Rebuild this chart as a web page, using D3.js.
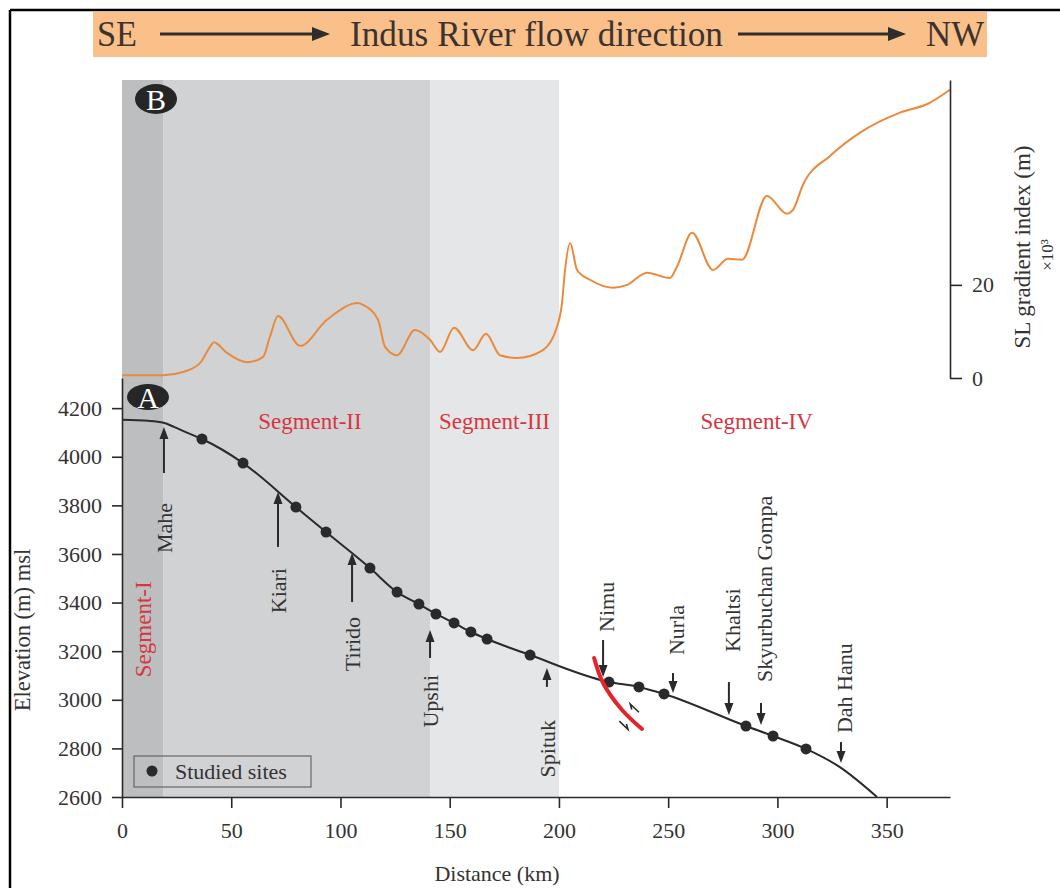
<!DOCTYPE html>
<html>
<head>
<meta charset="utf-8">
<script src="https://cdn.jsdelivr.net/npm/d3@7/dist/d3.min.js"></script>
<style>
  html, body { margin: 0; padding: 0; background: #fff; }
  svg { display: block; }
  text { font-family: "Liberation Serif", "Times New Roman", serif; fill: #333; }
</style>
</head>
<body>
<svg id="chart" width="1060" height="888"></svg>
<script>
// ---- Data -------------------------------------------------------------
// Longitudinal river profile of the Indus (distance km, elevation m)
const profile = [
  [0, 4152], [12, 4148], [19, 4140], [24, 4122], [30, 4098],
  [36.6, 4073], [55.4, 3974], [79.6, 3793], [93.4, 3690],
  [113.5, 3542], [125.9, 3443], [135.9, 3394], [143.7, 3353],
  [152.0, 3316], [159.7, 3279], [167.1, 3250], [186.8, 3184],
  [222.9, 3073], [236.6, 3053], [248.1, 3024], [285.6, 2892],
  [298.0, 2851], [313.1, 2798], [328.6, 2723], [345.6, 2600]
];
// Studied sites along the profile
const sites = [
  [36.6, 4073], [55.4, 3974], [79.6, 3793], [93.4, 3690],
  [113.5, 3542], [125.9, 3443], [135.9, 3394], [143.7, 3353],
  [152.0, 3316], [159.7, 3279], [167.1, 3250], [186.8, 3184],
  [222.9, 3073], [236.6, 3053], [248.1, 3024], [285.6, 2892],
  [298.0, 2851], [313.1, 2798]
];
// Stream-length gradient index (x10^3 m) along the river
const slIndex = [
  [0, 0.6], [18.8, 0.6], [27.9, 1.3], [35.7, 3.2], [40.3, 6.7], [42.1, 7.7],
  [48.0, 5.4], [57.2, 3.4], [64.5, 4.5], [67.7, 8.8], [71.4, 13.3],
  [81.5, 6.9], [93.8, 12.5], [108.0, 16.1], [110.3, 15.7], [117.2, 12.5],
  [120.4, 6.7], [125.9, 4.9], [134.1, 10.3], [141.0, 8.2], [145.6, 5.6],
  [152.0, 10.8], [160.7, 6.0], [166.6, 9.5], [173.0, 4.9], [180.8, 4.3],
  [192.7, 6.0], [199.1, 11.0], [201.4, 16.1], [202.8, 23.2], [205.1, 29.0],
  [208.3, 23.2], [214.2, 21.1], [224.7, 19.4], [231.2, 20.0], [240.3, 22.6],
  [250.8, 21.5], [254.0, 23.9], [260.9, 31.2], [270.5, 23.2], [277.4, 25.6],
  [283.8, 25.4], [295.2, 39.1], [304.4, 35.3], [307.1, 36.1], [311.7, 41.5],
  [324.1, 47.7], [337.8, 52.7], [356.1, 57.0], [368.9, 58.9], [379.0, 61.9]
];
// River segments (km ranges)
const segments = [
  { name: "Segment-I",   from: 0,     to: 18.8 },
  { name: "Segment-II",  from: 18.8,  to: 141 },
  { name: "Segment-III", from: 141,   to: 200 },
  { name: "Segment-IV",  from: 200,   to: 379 }
];
// Localities: arrow tip/tail and label end, in km / elevation
const localities = [
  { name: "Mahe",              km: 19.2,  dir: "up",   tip: 4122, tail: 3933, label: 3810 },
  { name: "Kiari",             km: 71.4,  dir: "up",   tip: 3855, tail: 3629, label: 3542 },
  { name: "Tirido",            km: 105.3, dir: "up",   tip: 3604, tail: 3402, label: 3341 },
  { name: "Upshi",             km: 141.0, dir: "up",   tip: 3287, tail: 3172, label: 3102 },
  { name: "Spituk",            km: 194.5, dir: "up",   tip: 3131, tail: 3053, label: 2917 },
  { name: "Nimu",              km: 220.2, dir: "down", tip: 3094, tail: 3246, label: 3279 },
  { name: "Nurla",             km: 252.2, dir: "down", tip: 3028, tail: 3110, label: 3184 },
  { name: "Khaltsi",           km: 277.8, dir: "down", tip: 2937, tail: 3073, label: 3197 },
  { name: "Skyurbuchan Gompa", km: 292.5, dir: "down", tip: 2896, tail: 2987, label: 3073 },
  { name: "Dah Hanu",          km: 329.1, dir: "down", tip: 2740, tail: 2826, label: 2863 }
];
// Trace of the fault crossing the profile near Nimu
const fault = [[216.1, 3172], [220.2, 3069], [228.9, 2958], [238.0, 2880]];

const distanceTicks = [0, 50, 100, 150, 200, 250, 300, 350];
const elevationTicks = [2600, 2800, 3000, 3200, 3400, 3600, 3800, 4000, 4200];
const slTicks = [0, 20];

// ---- Layout ----------------------------------------------------------
const svg = d3.select("#chart");
const FONT = 22;
const red = "#d8363f";
const ink = "#2a2a2a";

const x = d3.scaleLinear().domain([0, 379]).range([122, 950]);
const yElev = d3.scaleLinear().domain([2600, 4324]).range([797, 378]);
const ySL = d3.scaleLinear().domain([0, 64]).range([378, 80]);

// Outer frame
svg.append("line").attr("x1", 10).attr("y1", 10).attr("x2", 1060).attr("y2", 10)
  .attr("stroke", "#000").attr("stroke-width", 2.5);
svg.append("line").attr("x1", 10).attr("y1", 10).attr("x2", 10).attr("y2", 888)
  .attr("stroke", "#000").attr("stroke-width", 2.5);

// Flow direction banner
const banner = svg.append("g");
banner.append("rect").attr("x", 93).attr("y", 12).attr("width", 894).attr("height", 45)
  .attr("fill", "#fbbf89");
const bannerText = [
  { t: "SE", x: 97, w: 40 },
  { t: "Indus River flow direction", x: 350, w: 373 },
  { t: "NW", x: 926, w: 58 }
];
banner.selectAll("text.b").data(bannerText).join("text")
  .attr("x", d => d.x).attr("y", 46)
  .attr("textLength", d => d.w).attr("lengthAdjust", "spacingAndGlyphs")
  .style("font-size", "36px").style("fill", "#3a3431")
  .text(d => d.t);
const bannerArrows = [[160, 330], [738, 906]];
bannerArrows.forEach(([a, b]) => {
  banner.append("line").attr("x1", a).attr("y1", 34).attr("x2", b - 14).attr("y2", 34)
    .attr("stroke", "#2e2e2e").attr("stroke-width", 3);
  banner.append("path")
    .attr("d", `M${b},34 L${b - 18},27 L${b - 18},41 Z`).attr("fill", "#2e2e2e");
});

// Segment shading (first three segments)
const shades = ["#bdbec0", "#d1d2d4", "#e5e6e7"];
svg.append("g").selectAll("rect").data(segments.slice(0, 3)).join("rect")
  .attr("x", d => x(d.from)).attr("width", d => x(d.to) - x(d.from))
  .attr("y", ySL.range()[1]).attr("height", yElev(2600) - ySL.range()[1])
  .attr("fill", (d, i) => shades[i]);

// ---- Panel B: SL index ------------------------------------------------
svg.append("path").datum(slIndex)
  .attr("fill", "none").attr("stroke", "#ea8a3c").attr("stroke-width", 2)
  .attr("d", d3.line().x(d => x(d[0])).y(d => ySL(d[1])).curve(d3.curveMonotoneX));

const rightAxis = svg.append("g").attr("transform", `translate(${x(379)},0)`)
  .call(d3.axisRight(ySL).tickValues(slTicks).tickSize(12).tickSizeOuter(0).tickPadding(10));
rightAxis.select(".domain").attr("stroke", ink).attr("stroke-width", 1.6);
rightAxis.selectAll(".tick line").attr("stroke", ink).attr("stroke-width", 1.6);
rightAxis.selectAll(".tick text").style("font-size", FONT + "px")
  .style("font-family", '"Liberation Serif", serif').attr("fill", "#333");

svg.append("text").attr("transform", "translate(1022,247) rotate(-90)")
  .attr("text-anchor", "middle").attr("dy", "0.35em").style("font-size", "23px")
  .text("SL gradient index (m)");
svg.append("text").attr("transform", "translate(1047,255) rotate(-90)")
  .attr("text-anchor", "middle").attr("dy", "0.35em").style("font-size", "17px")
  .text("×10³");

// ---- Panel A: river profile -----------------------------------------
const leftAxis = svg.append("g").attr("transform", `translate(${x(0)},0)`)
  .call(d3.axisLeft(yElev).tickValues(elevationTicks).tickSize(10).tickSizeOuter(0).tickPadding(10).tickFormat(d3.format("d")));
const bottomAxis = svg.append("g").attr("transform", `translate(0,${yElev(2600)})`)
  .call(d3.axisBottom(x).tickValues(distanceTicks).tickSize(11).tickSizeOuter(0).tickPadding(14).tickFormat(d3.format("d")));
[leftAxis, bottomAxis].forEach(ax => {
  ax.select(".domain").attr("stroke", ink).attr("stroke-width", 1.6);
  ax.selectAll(".tick line").attr("stroke", ink).attr("stroke-width", 1.6);
  ax.selectAll(".tick text").style("font-size", FONT + "px")
    .style("font-family", '"Liberation Serif", serif').attr("fill", "#333");
});

svg.append("text").attr("transform", "translate(22,630) rotate(-90)")
  .attr("text-anchor", "middle").attr("dy", "0.35em").style("font-size", "22.5px")
  .text("Elevation (m) msl");
svg.append("text").attr("x", 497).attr("y", 881).attr("text-anchor", "middle")
  .style("font-size", FONT + "px").text("Distance (km)");

// Segment labels
const segLabels = svg.append("g").style("fill", red);
segLabels.selectAll("text").data(segments.slice(1)).join("text")
  .attr("x", d => d.name === "Segment-II" ? x(86) : d.name === "Segment-III" ? x(170.5) : x(290.5))
  .attr("y", 429).attr("text-anchor", "middle")
  .style("font-size", "23px").style("fill", red).text(d => d.name);
svg.append("text").attr("transform", `translate(${x(9.8)},${yElev(3290)}) rotate(-90)`)
  .attr("text-anchor", "middle").attr("dy", "0.33em")
  .style("font-size", "23px").style("fill", red).text(segments[0].name);

// Profile line and sites
svg.append("path").datum(profile)
  .attr("fill", "none").attr("stroke", ink).attr("stroke-width", 2)
  .attr("d", d3.line().x(d => x(d[0])).y(d => yElev(d[1])).curve(d3.curveMonotoneX));
svg.append("g").selectAll("circle").data(sites).join("circle")
  .attr("cx", d => x(d[0])).attr("cy", d => yElev(d[1])).attr("r", 5.5).attr("fill", ink);

// Fault trace
svg.append("path").datum(fault)
  .attr("fill", "none").attr("stroke", "#e3242b").attr("stroke-width", 4).attr("stroke-linecap", "round")
  .attr("d", d3.line().x(d => x(d[0])).y(d => yElev(d[1])).curve(d3.curveCatmullRom));
(function faultSense() {
  const p = fault.map(d => [x(d[0]), yElev(d[1])]);
  const a = p[2], b = p[3];
  const len = Math.hypot(b[0] - a[0], b[1] - a[1]);
  const t = [(b[0] - a[0]) / len, (b[1] - a[1]) / len];
  const n = [t[1], -t[0]];
  const m = [(a[0] + b[0]) / 2, (a[1] + b[1]) / 2];
  const g = svg.append("g").attr("stroke", ink).attr("stroke-width", 1.6).attr("fill", "none");
  // hanging wall side: arrow pointing down-dip
  const c1 = [m[0] - n[0] * 10 - t[0] * 2, m[1] - n[1] * 10 - t[1] * 2];
  const s1 = [c1[0] - t[0] * 6, c1[1] - t[1] * 6], e1 = [c1[0] + t[0] * 6, c1[1] + t[1] * 6];
  g.append("path").attr("d", `M${s1}L${e1}L${e1[0] - t[0] * 5 + n[0] * 3},${e1[1] - t[1] * 5 + n[1] * 3}`);
  // footwall side: arrow pointing up-dip
  const c2 = [m[0] + n[0] * 10 - t[0] * 6, m[1] + n[1] * 10 - t[1] * 6];
  const s2 = [c2[0] + t[0] * 6, c2[1] + t[1] * 6], e2 = [c2[0] - t[0] * 6, c2[1] - t[1] * 6];
  g.append("path").attr("d", `M${s2}L${e2}L${e2[0] + t[0] * 5 - n[0] * 3},${e2[1] + t[1] * 5 - n[1] * 3}`);
})();

// Locality arrows and labels
const loc = svg.append("g");
localities.forEach(d => {
  const px = x(d.km);
  const tipY = yElev(d.tip), tailY = yElev(d.tail);
  const sgn = d.dir === "up" ? 1 : -1; // head points toward smaller y when up
  loc.append("line").attr("x1", px).attr("x2", px)
    .attr("y1", tailY).attr("y2", tipY + sgn * 10)
    .attr("stroke", ink).attr("stroke-width", 2);
  loc.append("path")
    .attr("d", `M${px},${tipY} L${px - 4.5},${tipY + sgn * 12} L${px + 4.5},${tipY + sgn * 12} Z`)
    .attr("fill", ink);
  loc.append("text")
    .attr("transform", `translate(${px + (d.dir === "up" ? 1 : 4)},${yElev(d.label)}) rotate(-90)`)
    .attr("text-anchor", d.dir === "up" ? "end" : "start")
    .attr("dy", "0.33em").style("font-size", FONT + "px").text(d.name);
});

// Legend
const lg = svg.append("g");
lg.append("rect").attr("x", 134).attr("y", 756).attr("width", 177).attr("height", 31)
  .attr("fill", "none").attr("stroke", "#666").attr("stroke-width", 1.2);
lg.append("circle").attr("cx", 152).attr("cy", 771).attr("r", 5.5).attr("fill", ink);
lg.append("text").attr("x", 175).attr("y", 779).style("font-size", FONT + "px").text("Studied sites");

// Panel badges
[{ t: "B", cx: 156, cy: 99, ry: 15 }, { t: "A", cx: 148, cy: 397, ry: 13 }].forEach(b => {
  svg.append("ellipse").attr("cx", b.cx).attr("cy", b.cy).attr("rx", 21).attr("ry", b.ry).attr("fill", "#262626");
  svg.append("text").attr("x", b.cx).attr("y", b.cy).attr("text-anchor", "middle").attr("dy", "0.36em")
    .style("font-size", "30px").style("fill", "#fff").text(b.t);
});
</script>
</body>
</html>
